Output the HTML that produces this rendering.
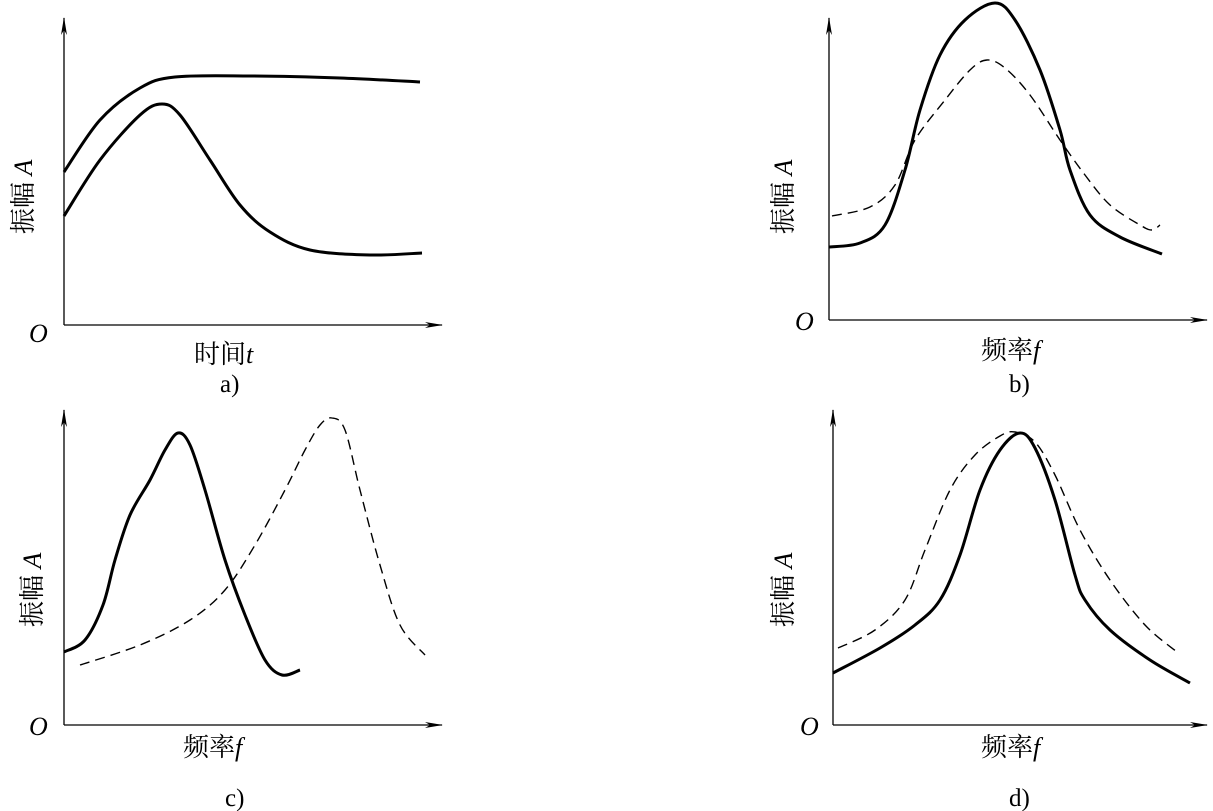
<!DOCTYPE html>
<html><head><meta charset="utf-8"><style>
body{margin:0;background:#fff}
svg{display:block}
text{font-family:"Liberation Serif","Noto Serif CJK SC",serif;fill:#000}
</style></head><body>
<svg id="s" width="1213" height="811" viewBox="0 0 1213 811" xmlns="http://www.w3.org/2000/svg">
<defs><marker id="ar" markerWidth="18" markerHeight="8" refX="17" refY="4" orient="auto" markerUnits="userSpaceOnUse"><path d="M0,1 L18,4 L0,7 L5,4 Z" fill="#000"/></marker></defs>
<g stroke="#000" stroke-width="1.3" fill="none">
<path d="M64,325 V18" marker-end="url(#ar)"/><path d="M64,325 H442" marker-end="url(#ar)"/>
<path d="M829,320 V18" marker-end="url(#ar)"/><path d="M829,320 H1207" marker-end="url(#ar)"/>
<path d="M64,725 V410" marker-end="url(#ar)"/><path d="M64,725 H442" marker-end="url(#ar)"/>
<path d="M833,725 V410" marker-end="url(#ar)"/><path d="M833,725 H1207" marker-end="url(#ar)"/>
</g>
<g id="curves" fill="none" stroke="#000"></g>
<g font-size="26">
<text x="29" y="342" font-style="italic">O</text>
<text x="795" y="330" font-style="italic">O</text>
<text x="29" y="735" font-style="italic">O</text>
<text x="800" y="735" font-style="italic">O</text>
<text x="194" y="363">时间<tspan font-style="italic">t</tspan></text>
<text x="981" y="359">频率<tspan font-style="italic">f</tspan></text>
<text x="183" y="756">频率<tspan font-style="italic">f</tspan></text>
<text x="981" y="756">频率<tspan font-style="italic">f</tspan></text>
<text x="220" y="392" font-size="25">a)</text><text x="1009" y="392" font-size="25">b)</text>
<text x="225" y="806" font-size="25">c)</text><text x="1009" y="806" font-size="25">d)</text>
<text transform="translate(32,234) rotate(-90)">振幅 <tspan font-style="italic">A</tspan></text>
<text transform="translate(792,234) rotate(-90)">振幅 <tspan font-style="italic">A</tspan></text>
<text transform="translate(41,627) rotate(-90)">振幅 <tspan font-style="italic">A</tspan></text>
<text transform="translate(792,627) rotate(-90)">振幅 <tspan font-style="italic">A</tspan></text>
</g>
</svg>
<script>
function cr(p){let d="M"+p[0];for(let i=0;i<p.length-1;i++){const a=p[i-1]||p[i],b=p[i],c=p[i+1],e=p[i+2]||c;
const c1=[b[0]+(c[0]-a[0])/6,b[1]+(c[1]-a[1])/6],c2=[c[0]-(e[0]-b[0])/6,c[1]-(e[1]-b[1])/6];
d+=" C"+c1+" "+c2+" "+c;}return d;}
const C=[
[[[64,172],[100,120],[140,88],[175,77],[250,76],[340,78],[420,82]],0],
[[[64,216],[100,160],[140,115],[162,104],[180,115],[210,160],[240,205],[270,232],[310,250],[370,255],[422,253]],0],
[[[829,247],[860,243],[885,225],[905,170],[920,110],[940,55],[965,20],[995,3],[1015,20],[1040,70],[1060,130],[1070,170],[1090,215],[1120,237],[1162,254]],0],
[[[832,216],[870,207],[895,185],[915,140],[945,100],[970,70],[987,60],[1005,68],[1030,95],[1060,140],[1085,175],[1110,205],[1140,225],[1152,230],[1160,225]],1],
[[[64,652],[85,640],[103,605],[115,560],[130,515],[150,480],[165,450],[178,433],[190,445],[205,490],[225,560],[245,615],[265,660],[282,675],[300,670]],0],
[[[80,665],[140,645],[190,620],[225,590],[255,545],[285,490],[305,450],[320,425],[332,418],[345,430],[360,490],[380,565],[400,625],[425,655]],1],
[[[833,673],[880,648],[915,625],[940,600],[960,555],[980,490],[1000,450],[1020,433],[1035,448],[1055,500],[1075,575],[1085,600],[1110,630],[1150,660],[1190,683]],0],
[[[838,648],[875,630],[905,600],[925,550],[950,490],[975,455],[1000,436],[1015,432],[1035,442],[1055,475],[1080,530],[1110,580],[1145,625],[1177,652]],1]];
const g=document.getElementById("curves");
for(const [p,dash] of C){const e=document.createElementNS("http://www.w3.org/2000/svg","path");
e.setAttribute("d",cr(p));e.setAttribute("stroke-width",dash?"1.4":"3");if(dash)e.setAttribute("stroke-dasharray","10,6");g.appendChild(e);}
</script>
</body></html>
